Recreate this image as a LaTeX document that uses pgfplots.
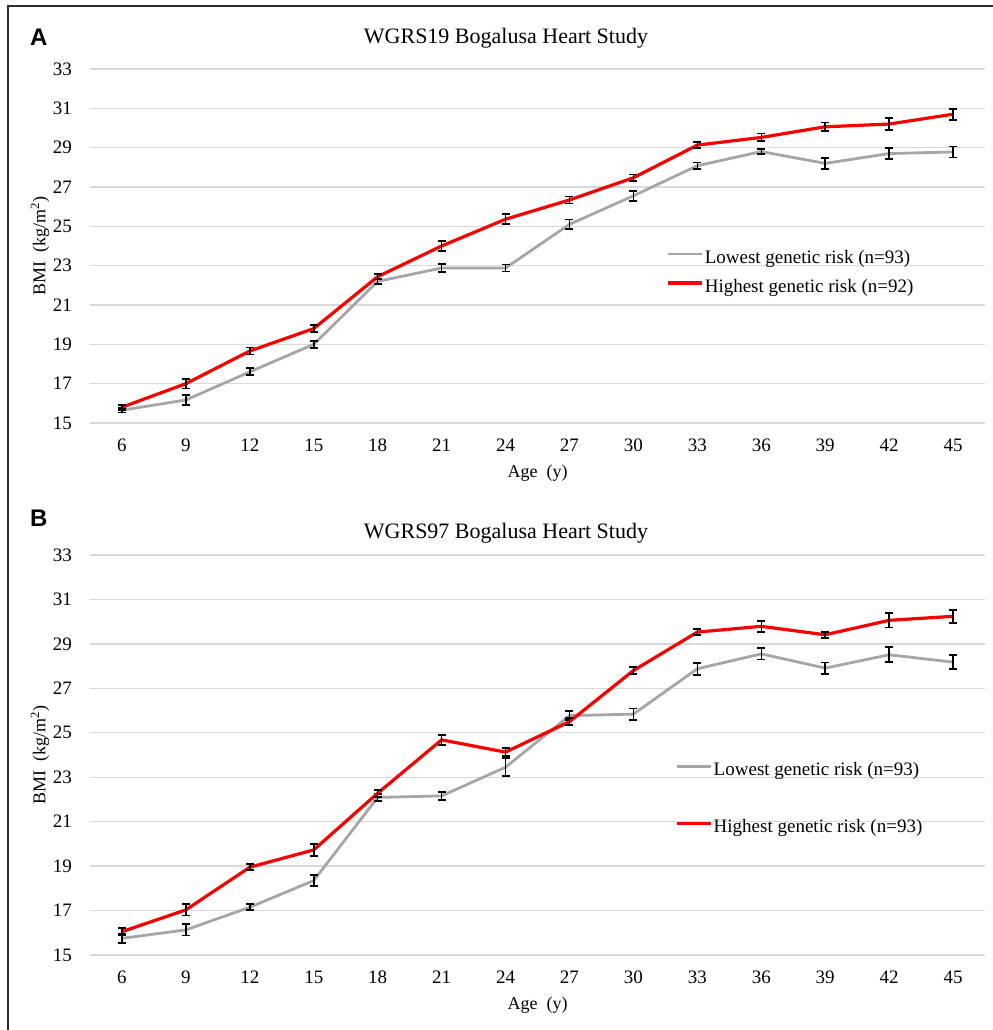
\documentclass[border=0pt]{standalone}
\usepackage{pgfplots}
\usepackage{pgfplotstable}
\pgfplotsset{compat=1.18}
\usepackage{fontspec}
\setmainfont{Liberation Serif}
\newfontfamily\panelfont{Liberation Sans}
\definecolor{lowgray}{RGB}{166,166,166}
\definecolor{highred}{RGB}{250,0,0}
\definecolor{gridgray}{RGB}{217,217,217}
\definecolor{framegray}{RGB}{45,45,45}

\pgfplotstableread{
age low lowe high highe
6  15.65 0.12 15.80 0.12
9  16.17 0.24 17.00 0.25
12 17.60 0.18 18.66 0.18
15 19.00 0.18 19.80 0.18
18 22.20 0.14 22.44 0.14
21 22.88 0.20 24.00 0.24
24 22.88 0.18 25.36 0.25
27 25.10 0.25 26.34 0.18
30 26.55 0.25 27.47 0.16
33 28.08 0.16 29.13 0.16
36 28.80 0.14 29.52 0.20
39 28.20 0.28 30.06 0.22
42 28.70 0.28 30.20 0.30
45 28.78 0.28 30.70 0.28
}\dataA

\pgfplotstableread{
age low lowe high highe
6  15.75 0.22 16.05 0.16
9  16.13 0.25 17.03 0.25
12 17.15 0.14 18.95 0.14
15 18.35 0.25 19.73 0.27
18 22.09 0.15 22.28 0.16
21 22.16 0.17 24.68 0.22
24 23.45 0.40 24.13 0.18
27 25.77 0.21 25.50 0.15
30 25.84 0.25 27.80 0.17
33 27.88 0.27 29.53 0.14
36 28.55 0.25 29.79 0.25
39 27.91 0.25 29.41 0.14
42 28.51 0.34 30.06 0.32
45 28.18 0.32 30.24 0.30
}\dataB

\pgfplotsset{
  bogstyle/.style={
    scale only axis, width=895bp,
    xmin=4.5, xmax=46.5, ymin=15, ymax=33,
    xtick={6,9,...,45}, ytick={15,17,...,33},
    axis line style={draw=none},
    major tick length=0pt,
    ymajorgrids, grid style={color=gridgray, line width=1.3bp},
    /pgf/number format/assume math mode=true,
    ticklabel style={font=\fontsize{19bp}{21bp}\selectfont, inner sep=0pt},
    yticklabel style={anchor=east, xshift=-18bp},
    xticklabel style={anchor=north, yshift=-16bp},
    label style={font=\fontsize{18bp}{20bp}\selectfont, inner sep=0pt},
    xlabel={Age\ \ (y)},
    ylabel={BMI\ \ (kg/m\textsuperscript{2})},
    xlabel style={at={(axis description cs:0.5,0)}, anchor=north, yshift=-42bp},
    ylabel style={at={(axis description cs:-0.0559,0.5)}, anchor=center},
    title style={font=\fontsize{22bp}{24bp}\selectfont, inner sep=0pt, at={(axis description cs:0.4648,1)}, anchor=base},
    legend cell align=left,
    legend image code/.code={\draw[##1] (0bp,4.5bp) -- (34bp,4.5bp);},
    legend style={draw=none, fill=none, inner sep=0pt,
      font=\fontsize{19bp}{21bp}\selectfont,
      nodes={inner sep=0pt, text height=13bp, text depth=4bp},
      /tikz/every odd column/.append style={column sep=1bp}},
    lowline/.style={lowgray, line width=2.8bp, mark=none},
    highline/.style={highred, line width=3.2bp, mark=none},
    ebars/.style={error bars/.cd, y dir=both, y explicit,
      error mark=|, error mark options={black, line width=1.8bp, mark size=4bp},
      error bar style={black, line width=1.5bp}},
  }
}

\begin{document}
\begin{tikzpicture}[x=1bp,y=1bp]
\useasboundingbox (0,0) rectangle (993,1030);
\draw[framegray, line width=2.4bp] (8,0) -- (8,1024) -- (993,1024);
\node[anchor=base west, inner sep=0pt, font=\panelfont\bfseries\fontsize{24bp}{26bp}\selectfont] at (30,984.3) {A};
\node[anchor=base west, inner sep=0pt, font=\panelfont\bfseries\fontsize{24bp}{26bp}\selectfont] at (30,503) {B};

\begin{axis}[bogstyle, at={(90bp,607bp)}, anchor=south west, height=354bp,
  title={WGRS19 Bogalusa Heart Study}, title style={yshift=20bp},
  legend style={at={(rel axis cs:0.644,0.489)}, anchor=north west, row sep=12bp}]
\addplot[lowline, ebars] table[x=age, y=low, y error=lowe] {\dataA};
\addlegendentry{Lowest genetic risk (n=93)}
\addplot[highline, ebars] table[x=age, y=high, y error=highe] {\dataA};
\addlegendentry{Highest genetic risk (n=92)}
\end{axis}

\begin{axis}[bogstyle, at={(90bp,75bp)}, anchor=south west, height=400bp,
  title={WGRS97 Bogalusa Heart Study}, title style={yshift=11bp},
  legend style={at={(rel axis cs:0.654,0.4825)}, anchor=north west, row sep=40bp}]
\addplot[lowline, ebars] table[x=age, y=low, y error=lowe] {\dataB};
\addlegendentry{Lowest genetic risk (n=93)}
\addplot[highline, ebars] table[x=age, y=high, y error=highe] {\dataB};
\addlegendentry{Highest genetic risk (n=93)}
\end{axis}
\end{tikzpicture}
\end{document}
